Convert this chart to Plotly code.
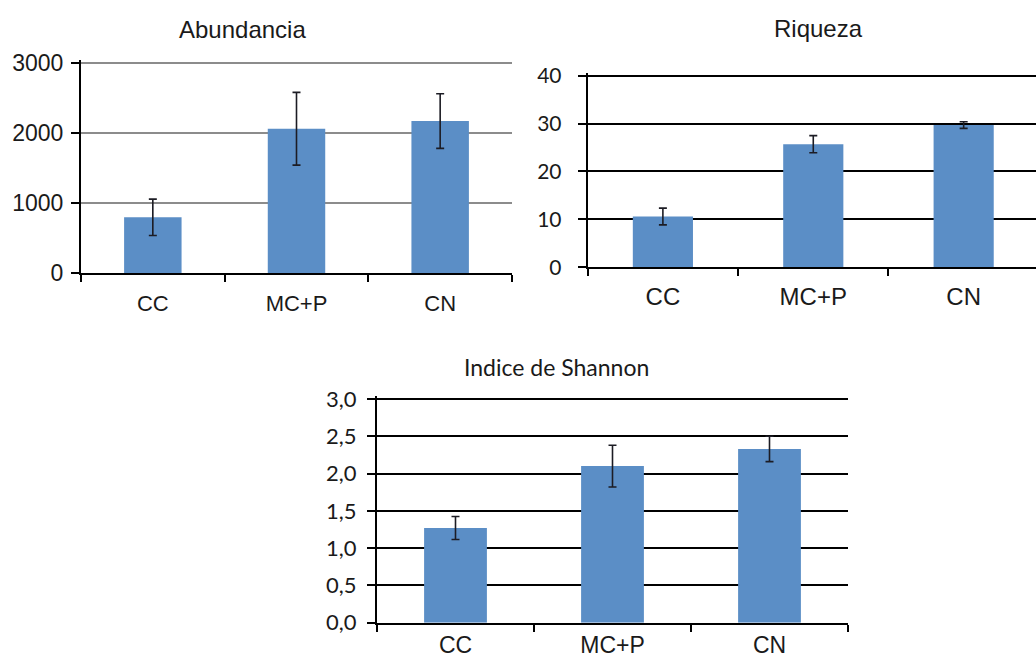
import plotly.graph_objects as go

W, H = 1036, 659

categories = ["CC", "MC+P", "CN"]

abund_mean = [800, 2065, 2175]
abund_err = [260, 520, 390]

riq_mean = [10.6, 25.7, 29.7]
riq_err = [1.75, 1.8, 0.7]

shan_mean = [1.27, 2.10, 2.33]
shan_err = [0.155, 0.28, 0.17]

abund_ticks = [0, 1000, 2000, 3000]
riq_ticks = [0, 10, 20, 30, 40]
shan_ticks = [0.0, 0.5, 1.0, 1.5, 2.0, 2.5, 3.0]
shan_ticktext = ["0,0", "0,5", "1,0", "1,5", "2,0", "2,5", "3,0"]

titles = ["Abundancia", "Riqueza", "Indice de Shannon"]

BAR = "#5b8ec6"
ERR = "#1c1c24"
ARIAL = "Liberation Sans, Arial, sans-serif"
CALIBRI = "Lato, Open Sans, sans-serif"
EXT = 1.015  # small headroom so the top gridline is drawn


def px_x(a, b):
    return [a / W, b / W]


def px_y(top, bottom):
    # top = pixel of the max tick value; extend domain a little for headroom
    span = bottom - top
    top_ext = top - span * (EXT - 1)
    return [1 - bottom / H, 1 - top_ext / H]


fig = go.Figure()

series = [
    (abund_mean, abund_err, "x", "y"),
    (riq_mean, riq_err, "x2", "y2"),
    (shan_mean, shan_err, "x3", "y3"),
]
for vals, errs, xa, ya in series:
    fig.add_trace(go.Bar(
        x=categories, y=vals, xaxis=xa, yaxis=ya, width=0.4,
        marker=dict(color=BAR, line=dict(width=0)),
        error_y=dict(type="data", array=errs, visible=True,
                     color=ERR, thickness=1.6, width=4),
        showlegend=False, hoverinfo="skip",
    ))


def xaxis(domain, rng, fontsize, anchor, standoff):
    return dict(
        domain=domain, range=rng, anchor=anchor, type="category",
        showline=True, linecolor="black", linewidth=2,
        ticks="outside", tickson="boundaries", ticklen=7,
        tickwidth=2, tickcolor="black", showgrid=False, zeroline=False,
        tickfont=dict(family=ARIAL, size=fontsize, color="#1a1a1a"),
        ticklabelstandoff=standoff, fixedrange=True, automargin=False,
    )


def yaxis(domain, top, tickvals, ticktext, gridcolor, gridwidth, font,
          fontsize, anchor, standoff):
    return dict(
        domain=domain, range=[0, top * EXT], anchor=anchor,
        tickvals=tickvals, ticktext=ticktext,
        showline=True, linecolor="black", linewidth=2,
        ticks="outside", ticklen=8, tickwidth=2, tickcolor="black",
        showgrid=True, gridcolor=gridcolor, gridwidth=gridwidth,
        zeroline=False,
        tickfont=dict(family=font, size=fontsize, color="#1a1a1a"),
        ticklabelstandoff=standoff, fixedrange=True, automargin=False,
    )


fig.update_layout(
    template="none",
    width=W, height=H,
    margin=dict(l=0, r=0, t=0, b=0, autoexpand=False),
    paper_bgcolor="white", plot_bgcolor="white",
    bargap=0.6,
    xaxis=xaxis(px_x(81, 512), [-0.5, 2.5], 22, "y", 9),
    yaxis=yaxis(px_y(63.3, 273.3), 3000, abund_ticks,
                [str(v) for v in abund_ticks], "#8c8c8c", 1.6,
                ARIAL, 23, "x", 3),
    xaxis2=xaxis([587.7 / W, 1.0], [-0.5, 2.481], 24, "y2", 7),
    yaxis2=yaxis(px_y(75.7, 267.3), 40, riq_ticks,
                 [str(v) for v in riq_ticks], "black", 2,
                 CALIBRI, 21, "x2", 12),
    xaxis3=xaxis(px_x(377, 848), [-0.5, 2.5], 23, "y3", 1),
    yaxis3=yaxis(px_y(399, 622.7), 3.0, shan_ticks, shan_ticktext,
                 "black", 2, CALIBRI, 22, "x3", 6),
)

title_specs = [
    (titles[0], 242, 30, ARIAL, 24),
    (titles[1], 818, 29, ARIAL, 24),
    (titles[2], 556, 367, CALIBRI, 23),
]
for text, cx, cy, fam, fs in title_specs:
    fig.add_annotation(
        text=text, xref="paper", yref="paper",
        x=cx / W, y=1 - cy / H, xanchor="center", yanchor="middle",
        showarrow=False, font=dict(family=fam, size=fs, color="#1a1a1a"),
    )

fig.write_html("out.html", config={"displayModeBar": False})
